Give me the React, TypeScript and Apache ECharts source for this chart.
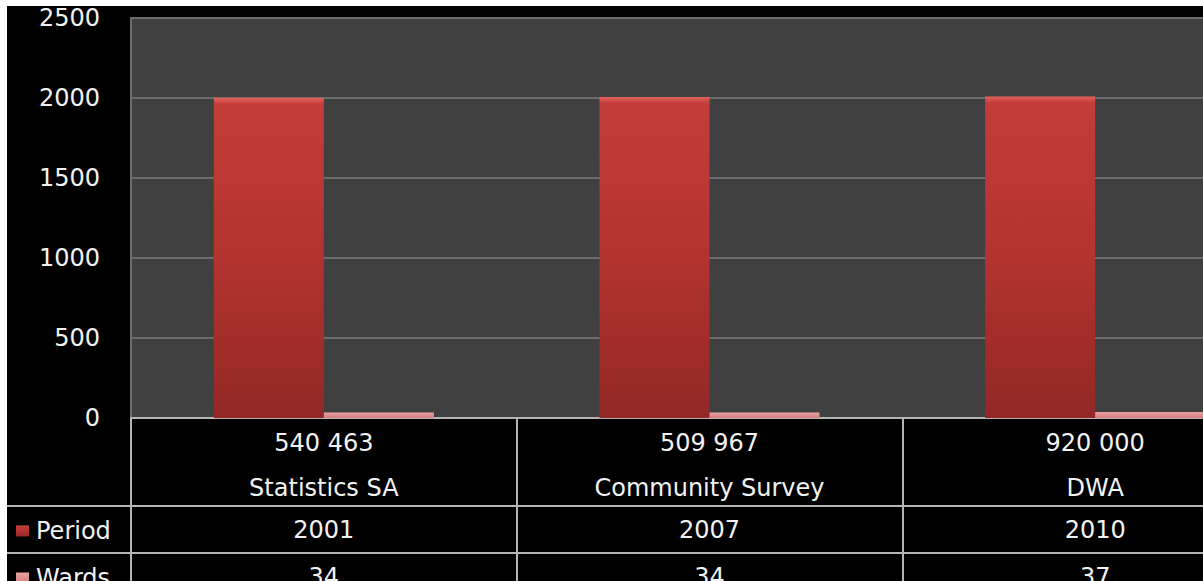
import React, { useEffect, useRef } from "react";
import * as echarts from "echarts";

const populations = ["540 463", "509 967", "920 000"];
const sources = ["Statistics SA", "Community Survey", "DWA"];
const periodValues = [2001, 2007, 2010];
const wardsValues = [34, 34, 37];
const seriesNames = ["Period", "Wards"];
const yTicks = { min: 0, max: 2500, interval: 500 };

const FONT = "DejaVu Sans";
const TXT = "#f2f2f2";
const LINE = "#b4b4b4";

export default function App() {
  const ref = useRef<HTMLDivElement>(null);
  useEffect(() => {
    if (!ref.current) return;
    const chart = echarts.init(ref.current, undefined, { renderer: "svg" });
    const catLabels = populations.map((p, i) => `${p}\n${sources[i]}`);
    const periodColor = new echarts.graphic.LinearGradient(0, 0, 0, 1, [
      { offset: 0, color: "#e2625c" },
      { offset: 0.02, color: "#c43d38" },
      { offset: 0.5, color: "#b3332f" },
      { offset: 1, color: "#922825" },
    ]);
    const wardsColor = new echarts.graphic.LinearGradient(0, 0, 0, 1, [
      { offset: 0, color: "#eaa3a3" },
      { offset: 1, color: "#d27c7c" },
    ]);
    chart.setOption({
      animation: false,
      backgroundColor: "#000000",
      textStyle: { fontFamily: FONT },
      grid: {
        left: 124,
        right: 0,
        top: 12,
        height: 400,
        show: true,
        backgroundColor: "#404040",
        borderWidth: 0,
      },
      legend: {
        orient: "vertical",
        left: 4,
        top: 508,
        itemWidth: 13,
        itemHeight: 11,
        itemGap: 23,
        icon: "rect",
        data: seriesNames,
        textStyle: {
          color: TXT,
          fontSize: 24,
          lineHeight: 24,
          fontFamily: FONT,
          padding: [0, 0, 0, 2],
        },
      },
      xAxis: [
        {
          type: "category",
          data: catLabels,
          position: "bottom",
          axisLine: { show: true, lineStyle: { color: LINE, width: 2 } },
          axisTick: { show: false },
          axisLabel: {
            color: TXT,
            fontSize: 24,
            lineHeight: 45,
            margin: 2,
            fontFamily: FONT,
            interval: 0,
          },
        },
        {
          type: "category",
          data: periodValues.map(String),
          position: "bottom",
          offset: 88,
          axisLine: { show: false },
          axisTick: { show: false },
          axisLabel: {
            color: TXT,
            fontSize: 24,
            lineHeight: 24,
            margin: 12,
            fontFamily: FONT,
            interval: 0,
          },
        },
        {
          type: "category",
          data: wardsValues.map(String),
          position: "bottom",
          offset: 135,
          axisLine: { show: false },
          axisTick: { show: false },
          axisLabel: {
            color: TXT,
            fontSize: 24,
            lineHeight: 24,
            margin: 12,
            fontFamily: FONT,
            interval: 0,
          },
        },
        {
          type: "category",
          data: sources,
          position: "bottom",
          offset: 180,
          axisLine: { show: false },
          axisTick: {
            show: true,
            inside: true,
            length: 180,
            lineStyle: { color: LINE, width: 2 },
          },
          axisLabel: { show: false },
        },
      ],
      yAxis: {
        type: "value",
        min: yTicks.min,
        max: yTicks.max,
        interval: yTicks.interval,
        axisLine: { show: true, lineStyle: { color: "#6c6c6c", width: 2 } },
        axisTick: { show: false },
        splitLine: { show: true, lineStyle: { color: "#6c6c6c", width: 2 } },
        axisLabel: {
          color: TXT,
          fontSize: 24,
          margin: 31,
          fontFamily: FONT,
          formatter: (v: number) => String(v),
        },
      },
      graphic: [
        {
          type: "line",
          shape: { x1: 0, y1: 500, x2: 1281, y2: 500 },
          style: { stroke: LINE, lineWidth: 2 },
        },
        {
          type: "line",
          shape: { x1: 0, y1: 547, x2: 1281, y2: 547 },
          style: { stroke: LINE, lineWidth: 2 },
        },
      ],
      series: [
        {
          name: seriesNames[0],
          type: "bar",
          data: periodValues,
          barWidth: 110,
          barGap: "0%",
          itemStyle: { color: periodColor },
        },
        {
          name: seriesNames[1],
          type: "bar",
          data: wardsValues,
          barWidth: 110,
          barGap: "0%",
          itemStyle: { color: wardsColor },
        },
      ],
    });
    return () => chart.dispose();
  }, []);
  return (
    <div
      style={{
        position: "fixed",
        left: 0,
        top: 0,
        width: 1203,
        height: 581,
        overflow: "hidden",
        background: "#ffffff",
      }}
    >
      <div
        ref={ref}
        style={{ position: "absolute", left: 7, top: 6, width: 1281, height: 600 }}
      />
    </div>
  );
}
